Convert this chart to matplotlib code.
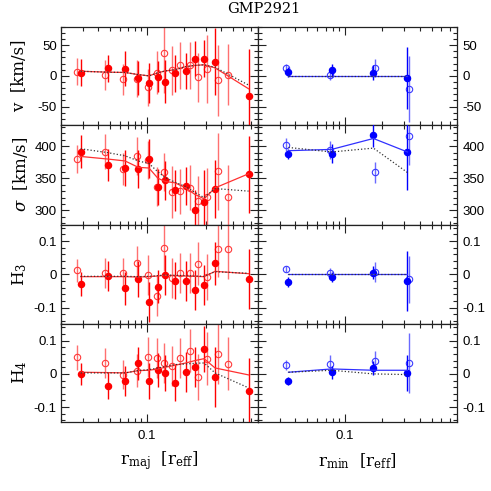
import matplotlib
matplotlib.use('Agg')
import matplotlib.pyplot as plt
from matplotlib.ticker import FixedLocator, MultipleLocator, NullFormatter

plt.rcParams['font.family'] = 'DejaVu Serif'
plt.rcParams['mathtext.fontset'] = 'dejavuserif'

# ---- major axis (left column) ----
rmaj_fill = [0.0289, 0.0478, 0.0664, 0.0851, 0.1038, 0.1228, 0.1408, 0.1687, 0.2070, 0.2448, 0.2914, 0.3578, 0.6703]
rmaj_open = [0.0268, 0.0457, 0.0639, 0.0831, 0.1026, 0.1213, 0.1382, 0.1585, 0.1863, 0.2245, 0.2606, 0.3100, 0.3759, 0.4559]

v_maj_fill = [5.4, 12.4, 11.8, -3.3, -11.4, -1.1, -9.3, 4.5, 8.0, 28.1, 28.1, 23.2, -32.0]
v_maj_fill_err = [22, 22, 28, 28, 33, 25, 35, 30, 30, 28, 30, 55, 75]
v_maj_open = [7.0, 1.6, -5.5, -4.4, -18.5, 5.4, 36.7, 9.1, 17.3, 17.3, -2.2, 11.3, -7.1, 2.1]
v_maj_open_err = [22, 25, 25, 30, 30, 35, 65, 40, 38, 38, 40, 55, 58, 50]

s_maj_fill = [391.7, 370.0, 365.8, 364.8, 380.8, 335.8, 346.7, 331.0, 338.0, 301.3, 313.2, 333.4, 356.2]
s_maj_fill_err = [25, 25, 28, 30, 30, 28, 30, 32, 30, 30, 50, 45, 60]
s_maj_open = [379.8, 391.7, 364.2, 385.0, 378.8, 337.0, 359.5, 328.5, 329.5, 335.5, 314.0, 320.7, 360.6, 320.7]
s_maj_open_err = [22, 27, 25, 30, 30, 30, 30, 40, 35, 35, 40, 45, 60, 50]

h3_maj_fill = [-0.029, -0.006, -0.042, -0.014, -0.082, -0.037, -0.003, -0.019, -0.019, -0.046, -0.032, 0.033, -0.014]
h3_maj_fill_err = [0.037, 0.045, 0.05, 0.055, 0.06, 0.05, 0.06, 0.055, 0.06, 0.06, 0.06, 0.065, 0.09]
h3_maj_open = [0.012, 0.005, 0.005, 0.035, -0.003, -0.064, 0.080, -0.011, 0.005, 0.003, 0.032, -0.008, 0.076, 0.076]
h3_maj_open_err = [0.035, 0.045, 0.045, 0.05, 0.06, 0.06, 0.07, 0.06, 0.06, 0.06, 0.065, 0.07, 0.085, 0.09]

h4_maj_fill = [0.001, -0.035, -0.022, 0.032, -0.022, 0.012, 0.003, -0.026, 0.005, 0.022, 0.075, -0.009, -0.051]
h4_maj_fill_err = [0.033, 0.04, 0.045, 0.05, 0.055, 0.05, 0.055, 0.055, 0.06, 0.06, 0.07, 0.09, 0.1]
h4_maj_open = [0.050, 0.032, -0.002, 0.010, 0.051, 0.048, 0.032, 0.024, 0.048, 0.070, -0.010, 0.046, 0.061, 0.030]
h4_maj_open_err = [0.037, 0.045, 0.045, 0.05, 0.06, 0.06, 0.06, 0.06, 0.06, 0.065, 0.07, 0.08, 0.09, 0.08]

# model lines (at filled-point radii)
v_maj_solid = [7.5, 6.0, 5.5, 2.0, 0.0, 5.0, 8.0, 10.0, 15.0, 17.0, 18.0, 13.0, -21.0]
v_maj_dot = [7.5, 6.0, 5.5, 2.0, 0.0, 5.0, 8.0, 10.0, 15.0, 17.0, 18.0, 14.0, -15.0]
s_maj_solid = [384, 380, 377, 367, 366, 350, 345, 343, 335, 325, 318, 335, 357]
s_maj_dot = [396, 390, 385, 377, 373, 360, 351, 344, 337, 328, 320, 334, 330]
h3_maj_solid = [-0.007, -0.007, -0.007, -0.008, -0.007, -0.005, -0.003, -0.004, -0.005, -0.006, -0.007, 0.009, 0.002]
h3_maj_dot = [-0.006, -0.006, -0.006, -0.007, -0.006, -0.004, -0.002, -0.003, -0.004, -0.005, -0.006, 0.008, 0.003]
h4_maj_solid = [0.005, 0.004, 0.003, 0.010, 0.011, 0.015, 0.020, 0.026, 0.033, 0.040, 0.046, 0.018, -0.003]
h4_maj_dot = [0.003, 0.003, 0.003, 0.010, 0.013, 0.018, 0.022, 0.028, 0.030, 0.032, 0.033, 0.003, -0.042]

# ---- minor axis (right column) ----
rmin_fill = [0.0352, 0.0784, 0.1699, 0.3192]
rmin_open = [0.0338, 0.0755, 0.1741, 0.3289]

v_min_fill = [6.1, 8.9, 5.0, -3.3]
v_min_fill_err = [8, 10, 12, 50]
v_min_open = [12.2, 0.6, 12.8, -21.0]
v_min_open_err = [7, 8, 14, 54]

s_min_fill = [387.5, 388.5, 417.2, 391.1]
s_min_fill_err = [8, 15, 18, 60]
s_min_open = [402.6, 394.8, 359.4, 415.6]
s_min_open_err = [10, 14, 16, 45]

h3_min_fill = [-0.023, -0.009, 0.005, -0.020]
h3_min_fill_err = [0.015, 0.015, 0.02, 0.09]
h3_min_open = [0.016, 0.003, 0.006, -0.015]
h3_min_open_err = [0.01, 0.015, 0.03, 0.07]

h4_min_fill = [-0.020, 0.005, 0.018, 0.003]
h4_min_fill_err = [0.012, 0.02, 0.02, 0.055]
h4_min_open = [0.026, 0.031, 0.038, 0.033]
h4_min_open_err = [0.015, 0.025, 0.03, 0.09]

v_min_solid = [0, 0, 0, 0]
v_min_dot = [0, 0, 0, 0]
s_min_solid = [393, 395, 412, 391]
s_min_dot = [398, 391, 397, 359]
h3_min_solid = [0, 0, 0, 0]
h3_min_dot = [0, 0, 0, 0]
h4_min_solid = [0.005, 0.015, 0.011, 0.011]
h4_min_dot = [0.005, 0.011, 0.0, -0.002]

row_labels = ['v  [km/s]', r'$\sigma$  [km/s]', r'H$_3$', r'H$_4$']
row_ylims = [(-80, 80), (278, 433), (-0.148, 0.15), (-0.145, 0.152)]
row_yticks = [[-50, 0, 50], [300, 350, 400], [-0.1, 0, 0.1], [-0.1, 0, 0.1]]
row_yticklabels = [['-50', '0', '50'], ['300', '350', '400'], ['-0.1', '0', '0.1'], ['-0.1', '0', '0.1']]
row_yminor = [10, 10, 0.02, 0.02]

maj_rows = [
    (v_maj_fill, v_maj_fill_err, v_maj_open, v_maj_open_err, v_maj_solid, v_maj_dot),
    (s_maj_fill, s_maj_fill_err, s_maj_open, s_maj_open_err, s_maj_solid, s_maj_dot),
    (h3_maj_fill, h3_maj_fill_err, h3_maj_open, h3_maj_open_err, h3_maj_solid, h3_maj_dot),
    (h4_maj_fill, h4_maj_fill_err, h4_maj_open, h4_maj_open_err, h4_maj_solid, h4_maj_dot),
]
min_rows = [
    (v_min_fill, v_min_fill_err, v_min_open, v_min_open_err, v_min_solid, v_min_dot),
    (s_min_fill, s_min_fill_err, s_min_open, s_min_open_err, s_min_solid, s_min_dot),
    (h3_min_fill, h3_min_fill_err, h3_min_open, h3_min_open_err, h3_min_solid, h3_min_dot),
    (h4_min_fill, h4_min_fill_err, h4_min_open, h4_min_open_err, h4_min_solid, h4_min_dot),
]

W = 491.0
fig = plt.figure(figsize=(4.91, 4.91), dpi=100)

col_x = [(61, 258), (258, 457)]
row_y = [26.7, 125.0, 224.5, 323.5, 422.0]

minor_x = [0.02, 0.03, 0.04, 0.05, 0.06, 0.07, 0.08, 0.09, 0.2, 0.3, 0.4, 0.5, 0.6, 0.7, 0.8]

styles = [
    dict(fill='#ff0000', open_edge='#ff3a3a', open_bar='#ff7070', line='#ff3030', r_fill=rmaj_fill, r_open=rmaj_open, rows=maj_rows),
    dict(fill='#0000ff', open_edge='#3a3aff', open_bar='#6a6aff', line='#3030ff', r_fill=rmin_fill, r_open=rmin_open, rows=min_rows),
]

for c, st in enumerate(styles):
    x0, x1 = col_x[c]
    for r in range(4):
        top, bot = row_y[r], row_y[r + 1]
        ax = fig.add_axes([x0 / W, 1 - bot / W, (x1 - x0) / W, (bot - top) / W])
        fill, fill_err, opn, opn_err, solid, dot = st['rows'][r]

        ax.errorbar(st['r_open'], opn, yerr=opn_err, fmt='o', ms=4.6, mfc='none',
                    mec=st['open_edge'], mew=0.8, ecolor=st['open_bar'], elinewidth=1.0,
                    capsize=0, zorder=2)
        ax.errorbar(st['r_fill'], fill, yerr=fill_err, fmt='o', ms=4.4,
                    color=st['fill'], ecolor=st['fill'], elinewidth=1.0, capsize=0, zorder=3)
        ax.plot(st['r_fill'], solid, '-', color=st['line'], lw=0.9, zorder=4)
        ax.plot(st['r_fill'], dot, ':', color='#333333', lw=0.9, zorder=4)

        ax.set_xscale('log')
        ax.set_xlim(0.02, 0.8)
        ax.set_ylim(*row_ylims[r])
        ax.xaxis.set_major_locator(FixedLocator([0.1]))
        ax.xaxis.set_minor_locator(FixedLocator(minor_x))
        ax.xaxis.set_minor_formatter(NullFormatter())
        ax.set_yticks(row_yticks[r], labels=row_yticklabels[r])
        ax.yaxis.set_minor_locator(MultipleLocator(row_yminor[r]))

        ax.tick_params(which='both', direction='in', top=True, bottom=True, left=True, right=True,
                       colors='#222222', width=0.8, labelsize=9.5, labelcolor='black',
                       labelfontfamily='Liberation Sans')
        ax.tick_params(which='major', length=5.5)
        ax.tick_params(which='minor', length=2.8)
        ax.tick_params(axis='x', pad=6)
        if c == 0:
            ax.tick_params(axis='y', labelleft=True, labelright=False, pad=3)
        else:
            ax.tick_params(axis='y', labelleft=False, labelright=True, pad=4)
        if r < 3:
            ax.tick_params(axis='x', labelbottom=False)
        else:
            ax.set_xticks([0.1], labels=['0.1'])
        for sp in ax.spines.values():
            sp.set_linewidth(0.9)
            sp.set_color('#222222')

        if c == 0:
            fig.text(20 / W, 1 - (top + bot) / 2 / W, row_labels[r], rotation=90,
                     ha='center', va='center', fontsize=12)

fig.text(264 / W, 1 - 9 / W, 'GMP2921', ha='center', va='center', fontsize=10.5)
fig.text(159.5 / W, 1 - 461 / W, r'r$_{\rm maj}$  [r$_{\rm eff}$]', ha='center', va='center', fontsize=12)
fig.text(357.5 / W, 1 - 461 / W, r'r$_{\rm min}$  [r$_{\rm eff}$]', ha='center', va='center', fontsize=12)

fig.savefig('out.png', dpi=100)
